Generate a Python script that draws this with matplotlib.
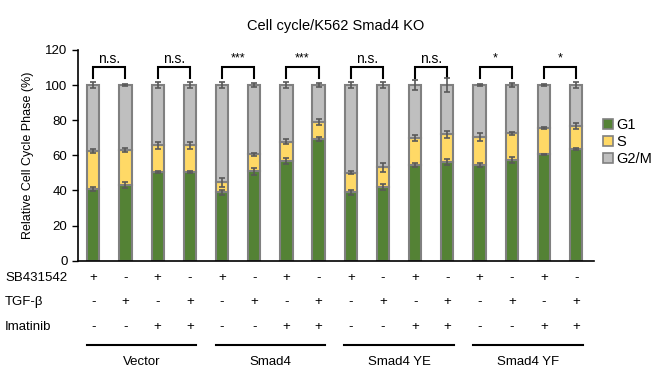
import matplotlib.pyplot as plt
import matplotlib.transforms as mtransforms
from matplotlib.patches import Patch
import numpy as np

plt.rcParams['font.family'] = ['Liberation Sans', 'DejaVu Sans']

groups = ['Vector', 'Smad4', 'Smad4 YE', 'Smad4 YF']
sb431542 = ['+', '-', '+', '-'] * 4
tgfb = ['-', '+', '-', '+'] * 4
imatinib = ['-', '-', '+', '+'] * 4

g1 = [40.8, 43.1, 50.3, 50.3, 38.9, 51.0, 56.7, 69.1,
      38.9, 42.1, 54.3, 56.2, 54.5, 57.3, 60.5, 63.4]
s_top = [62.4, 63.0, 65.7, 65.7, 44.6, 60.5, 67.7, 79.1,
         50.1, 53.2, 70.0, 71.9, 70.4, 72.5, 75.4, 76.6]
total = [100] * 16

g1_err = [1.0, 1.5, 0.6, 0.6, 1.5, 2.0, 1.5, 1.2,
          1.5, 1.8, 1.2, 1.8, 1.2, 1.8, 0.5, 0.6]
s_err = [1.0, 1.0, 2.0, 2.0, 2.5, 1.0, 1.5, 1.8,
         1.0, 2.5, 1.8, 2.2, 2.2, 1.0, 0.5, 1.5]
g2m_err = [1.5, 0.5, 1.5, 1.5, 1.5, 1.0, 1.5, 1.2,
           1.5, 1.5, 3.0, 4.0, 0.8, 1.2, 0.4, 1.5]

sig_labels = ['n.s.', 'n.s.', '***', '***', 'n.s.', 'n.s.', '*', '*']

c_g1 = '#548235'
c_s = '#ffd966'
c_g2m = '#bfbfbf'
edge = '#808080'
err_c = '#595959'

fig = plt.figure(figsize=(6.58, 3.74), dpi=100)
ax = fig.add_axes([0.1185, 0.303, 0.784, 0.5636])

x = np.arange(16)
g1 = np.array(g1)
s_top = np.array(s_top)
total = np.array(total)
w = 0.38
kw = dict(width=w, edgecolor=edge, linewidth=1.5, zorder=2)
ax.bar(x, g1, color=c_g1, **kw)
ax.bar(x, s_top - g1, bottom=g1, color=c_s, **kw)
ax.bar(x, total - s_top, bottom=s_top, color=c_g2m, **kw)

ekw = dict(fmt='none', ecolor=err_c, elinewidth=1.2, capsize=2.5, capthick=1.2, zorder=3)
ax.errorbar(x, g1, yerr=g1_err, **ekw)
ax.errorbar(x, s_top, yerr=s_err, **ekw)
ax.errorbar(x, total, yerr=g2m_err, **ekw)

# significance brackets
for i, lab in enumerate(sig_labels):
    a, b = 2 * i, 2 * i + 1
    ax.plot([a, a, b, b], [104, 110, 110, 104], color='black', lw=1.5,
            clip_on=False, solid_joinstyle='miter')
    if lab == 'n.s.':
        ax.text((a + b) / 2, 111, lab, ha='center', va='bottom', fontsize=10)
    else:
        ax.text((a + b) / 2, 112, lab, ha='center', va='bottom', fontsize=9)

ax.set_xlim(-0.475, 15.55)
ax.set_ylim(0, 120)
ax.set_yticks(range(0, 121, 20))
ax.set_xticks([])
ax.tick_params(axis='y', labelsize=9.5, length=4, width=1)
for sp in ['top', 'right']:
    ax.spines[sp].set_visible(False)
ax.spines['left'].set_linewidth(1.2)
ax.spines['bottom'].set_linewidth(1.2)
ax.set_ylabel('Relative Cell Cycle Phase (%)', fontsize=9)
ax.yaxis.set_label_coords(-0.085, 0.5)

fig.text(0.5106, 0.93, 'Cell cycle/K562 Smad4 KO', ha='center', va='center', fontsize=10.5)

# treatment table
trans = mtransforms.blended_transform_factory(ax.transData, fig.transFigure)
rows = [('SB431542', sb431542, 1 - 278 / 374),
        ('TGF-\u03b2', tgfb, 1 - 302 / 374),
        ('Imatinib', imatinib, 1 - 327 / 374)]
for name, signs, yy in rows:
    fig.text(5 / 658, yy, name, ha='left', va='center', fontsize=9.5)
    for xi, sg in zip(x, signs):
        ax.text(xi, yy, sg, ha='center', va='center', fontsize=9.5, transform=trans)

for gi, gname in enumerate(groups):
    c = 4 * gi + 1.5
    ax.plot([c - 1.7, c + 1.7], [1 - 345 / 374] * 2, color='black', lw=1.5,
            transform=trans, clip_on=False)
    ax.text(c, 1 - 362 / 374, gname, ha='center', va='center', fontsize=9.5, transform=trans)

handles = [Patch(facecolor=c_g1, edgecolor=edge, linewidth=1.2, label='G1'),
           Patch(facecolor=c_s, edgecolor=edge, linewidth=1.2, label='S'),
           Patch(facecolor=c_g2m, edgecolor=edge, linewidth=1.2, label='G2/M')]
fig.legend(handles=handles, loc='center left', bbox_to_anchor=(597 / 658, 1 - 142 / 374),
           frameon=False, fontsize=10.5, handlelength=0.7, handleheight=0.7,
           handletextpad=0.25, labelspacing=0.2, borderaxespad=0)

fig.savefig('out.png', dpi=100)
